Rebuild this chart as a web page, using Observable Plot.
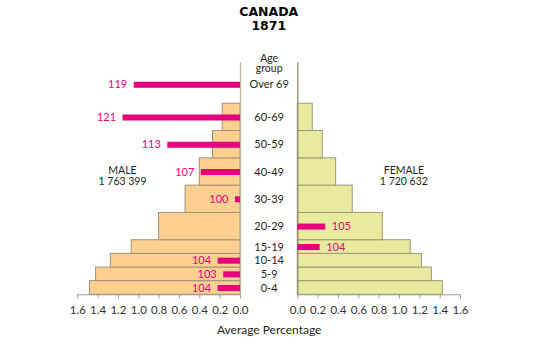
<!DOCTYPE html>
<html>
<head>
<meta charset="utf-8">
<script src="https://cdn.jsdelivr.net/npm/d3@7"></script>
<script src="https://cdn.jsdelivr.net/npm/@observablehq/plot@0.6"></script>
<style>
  html, body { margin: 0; padding: 0; background: #fff; }
  #title {
    width: 533px; height: 32px; box-sizing: border-box;
    padding-top: 5px; padding-left: 4.6px;
    text-align: center; font-family: "DejaVu Sans", sans-serif;
    font-weight: bold; font-size: 12.5px; line-height: 14px; color: #000;
  }
  #chart svg { display: block; }
</style>
</head>
<body>
<div id="title">CANADA<br>1871</div>
<div id="chart"></div>
<script>
// ---- data ----
const ageGroups = ["0-4", "5-9", "10-14", "15-19", "20-29", "30-39", "40-49", "50-59", "60-69", "Over 69"];
const ageStart  = [0, 5, 10, 15, 20, 30, 40, 50, 60, 70];
const ageEnd    = [5, 10, 15, 20, 30, 40, 50, 60, 70, 84];
const malePct   = [1.48, 1.42, 1.275, 1.07, 0.80, 0.54, 0.40, 0.27, 0.175, null];
const femalePct = [1.426, 1.318, 1.22, 1.11, 0.836, 0.54, 0.377, 0.246, 0.147, null];
const sexRatio  = [104, 103, 104, 104, 105, 100.9, 107, 113, 121, 119];
const excessSide = ["M", "M", "M", "F", "F", "M", "M", "M", "M", "M"];
const tickValues = [0, 0.2, 0.4, 0.6, 0.8, 1.0, 1.2, 1.4, 1.6];
const sexLabels = ["MALE\n1 763 399", "FEMALE\n1 720 632"];
const sexSide = ["M", "F"];

// ---- layout constants (styling) ----
const OFF = 0.2817;          // half gap between the two panels, in x units
const RATIO_K = 0.055;       // x units per point of sex-ratio excess
const MALE_FILL = "#fdd08f", FEMALE_FILL = "#e8eb9d", MAGENTA = "#e6007e";

const rows = ageGroups.map((g, i) => ({
  group: g, y1: ageStart[i], y2: ageEnd[i], mid: (ageStart[i] + ageEnd[i]) / 2,
  male: malePct[i], female: femalePct[i], ratio: sexRatio[i], side: excessSide[i]
}));
const barRows = rows.filter(d => d.male != null);
const sign = s => (s === "M" ? -1 : 1);

const ticks = [...tickValues.map(v => -OFF - v), ...tickValues.map(v => OFF + v)];

const plot = Plot.plot({
  width: 533,
  height: 324,
  marginLeft: 0, marginRight: 0, marginTop: 30.3, marginBottom: 61.7,
  style: { fontFamily: "Lato, sans-serif", fontSize: "11px", background: "transparent" },
  x: { domain: [-2.6416, 2.5993] },
  y: { domain: [0, 85], axis: null },
  marks: [
    // population bars
    Plot.rectX(barRows, { x1: -OFF, x2: d => -OFF - d.male, y1: "y1", y2: "y2", fill: MALE_FILL, stroke: "#a0927c", strokeWidth: 1 }),
    Plot.rectX(barRows, { x1: OFF, x2: d => OFF + d.female, y1: "y1", y2: "y2", fill: FEMALE_FILL, stroke: "#9a9a78", strokeWidth: 1 }),
    // vertical zero lines
    Plot.ruleX([-OFF], { stroke: "#bfb39f", strokeWidth: 1.3 }),
    Plot.ruleX([OFF], { stroke: "#8c8c6e", strokeWidth: 1.3 }),
    // horizontal axis lines
    Plot.ruleY([0], { x1: -OFF - 1.6, x2: -OFF, stroke: "#999" }),
    Plot.ruleY([0], { x1: OFF, x2: OFF + 1.6, stroke: "#999" }),
    Plot.axisX(ticks, {
      anchor: "bottom", tickSize: 4, tickPadding: 7, stroke: "#999", fill: "#333",
      fontSize: 11.5, label: null, tickFormat: d => (Math.abs(d) - OFF).toFixed(1)
    }),
    // sex-ratio excess bars
    Plot.ruleY(rows, {
      y: "mid", x1: d => sign(d.side) * OFF,
      x2: d => sign(d.side) * (OFF + (d.ratio - 100) * RATIO_K),
      stroke: MAGENTA, strokeWidth: 6
    }),
    Plot.text(rows.filter(d => d.side === "M"), {
      y: "mid", x: d => -OFF - (d.ratio - 100) * RATIO_K, text: d => String(Math.floor(d.ratio)),
      textAnchor: "end", dx: -7, fill: MAGENTA, fontSize: 11
    }),
    Plot.text(rows.filter(d => d.side === "F"), {
      y: "mid", x: d => OFF + (d.ratio - 100) * RATIO_K, text: d => String(Math.floor(d.ratio)),
      textAnchor: "start", dx: 6, fill: MAGENTA, fontSize: 11
    }),
    // age group labels
    Plot.text(rows, { y: "mid", x: () => 0, text: "group", fill: "#231f20", fontSize: 11 }),
    Plot.text(["Age\ngroup"], { x: () => 0, frameAnchor: "top", dy: -8.3, lineHeight: 1, fill: "#231f20", fontSize: 10.5 }),
    // sex totals
    Plot.text(sexLabels, {
      x: (d, i) => (sexSide[i] === "M" ? -OFF - 1.16 : OFF + 1.043), y: () => 43.4,
      text: d => d, lineHeight: 1, fill: "#231f20", fontSize: 10.5
    }),
    // axis title
    Plot.text(["Average Percentage"], { x: () => 0, frameAnchor: "bottom", dy: 38.7, fill: "#231f20", fontSize: 12 })
  ]
});
document.getElementById("chart").appendChild(plot);
</script>
</body>
</html>
